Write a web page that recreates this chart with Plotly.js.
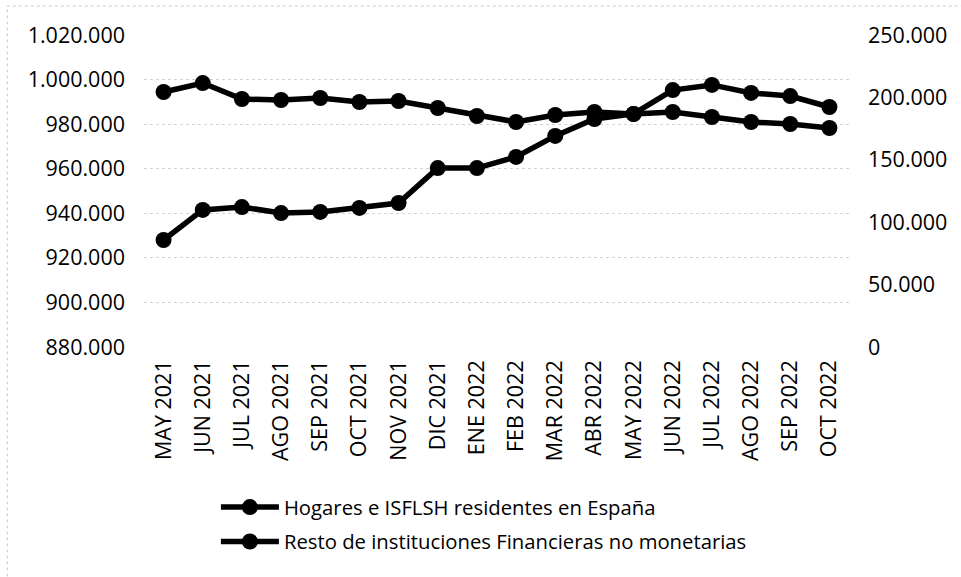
<!DOCTYPE html>
<html>
<head>
<meta charset="utf-8">
<script src="https://cdn.plot.ly/plotly-3.0.1.min.js"></script>
<style>
html,body{margin:0;padding:0;background:#fff;}
#chart{width:961px;height:577px;}
</style>
</head>
<body>
<div id="chart"></div>
<script>
const categories = ['MAY 2021','JUN 2021','JUL 2021','AGO 2021','SEP 2021','OCT 2021','NOV 2021','DIC 2021','ENE 2022','FEB 2022','MAR 2022','ABR 2022','MAY 2022','JUN 2022','JUL 2022','AGO 2022','SEP 2022','OCT 2022'];
const hogares = [928000, 941500, 942800, 940100, 940600, 942400, 944600, 960300, 960300, 965300, 974700, 982300, 984600, 995300, 997600, 994000, 992600, 987700];
const resto = [204300, 211500, 198700, 197900, 199500, 196300, 197100, 191500, 185100, 180300, 185900, 188300, 186700, 188300, 184300, 180300, 178700, 175500];
const leftTicks = [880000, 900000, 920000, 940000, 960000, 980000, 1000000, 1020000];
const rightTicks = [0, 50000, 100000, 150000, 200000, 250000];
const seriesNames = ['Hogares e ISFLSH residentes en España', 'Resto de instituciones Financieras no monetarias'];

const FONT = 'Open Sans, Noto Sans, sans-serif';

const traces = [
  {
    x: categories, y: hogares, name: seriesNames[0], type: 'scatter', mode: 'lines+markers',
    yaxis: 'y', legendgroup: 'a',
    line: {color: '#000000', width: 5.5},
    marker: {color: '#000000', size: 16, symbol: 'circle'}
  },
  {
    x: categories, y: resto, name: seriesNames[1], type: 'scatter', mode: 'lines+markers',
    yaxis: 'y2', legendgroup: 'b',
    line: {color: '#000000', width: 5.5},
    marker: {color: '#000000', size: 16, symbol: 'circle'}
  }
];

const layout = {
  width: 961, height: 577,
  margin: {l: 144, r: 112, t: 35, b: 230, pad: 0},
  paper_bgcolor: '#ffffff', plot_bgcolor: '#ffffff',
  separators: ',.',
  font: {family: FONT, size: 20, color: '#000000'},
  showlegend: true,
  legend: {
    x: 0.102, y: -0.45, xanchor: 'left', yanchor: 'top',
    orientation: 'v', traceorder: 'grouped', tracegroupgap: 5,
    itemwidth: 58,
    font: {family: FONT, size: 20.3, color: '#000000'},
    bgcolor: 'rgba(0,0,0,0)'
  },
  xaxis: {
    type: 'category', range: [-0.5, 17.5],
    tickangle: -90, ticks: '', showgrid: false, showline: false, zeroline: false,
    tickfont: {family: FONT, size: 21.5, color: '#000000'},
    ticklabelstandoff: 8
  },
  yaxis: {
    range: [880000, 1020000], tickvals: leftTicks, tickformat: ',d',
    showgrid: true, gridcolor: '#d4d4d4', gridwidth: 1, griddash: 'dot',
    zeroline: false, showline: false, ticks: '',
    tickfont: {family: FONT, size: 21.5, color: '#000000'},
    ticklabelstandoff: 18
  },
  yaxis2: {
    overlaying: 'y', side: 'right', range: [0, 250000], tickvals: rightTicks, tickformat: ',d',
    showgrid: false, zeroline: false, showline: false, ticks: '',
    tickfont: {family: FONT, size: 21.5, color: '#000000'},
    ticklabelstandoff: 18
  },
  shapes: [
    {type: 'rect', xref: 'paper', yref: 'paper', x0: -0.194, x1: 2, y0: -2, y1: 1.093,
     line: {color: '#c8c8c8', width: 1, dash: 'dot'}, fillcolor: 'rgba(0,0,0,0)', layer: 'below'}
  ]
};

Plotly.newPlot('chart', traces, layout, {displayModeBar: false, staticPlot: true});
</script>
</body>
</html>
